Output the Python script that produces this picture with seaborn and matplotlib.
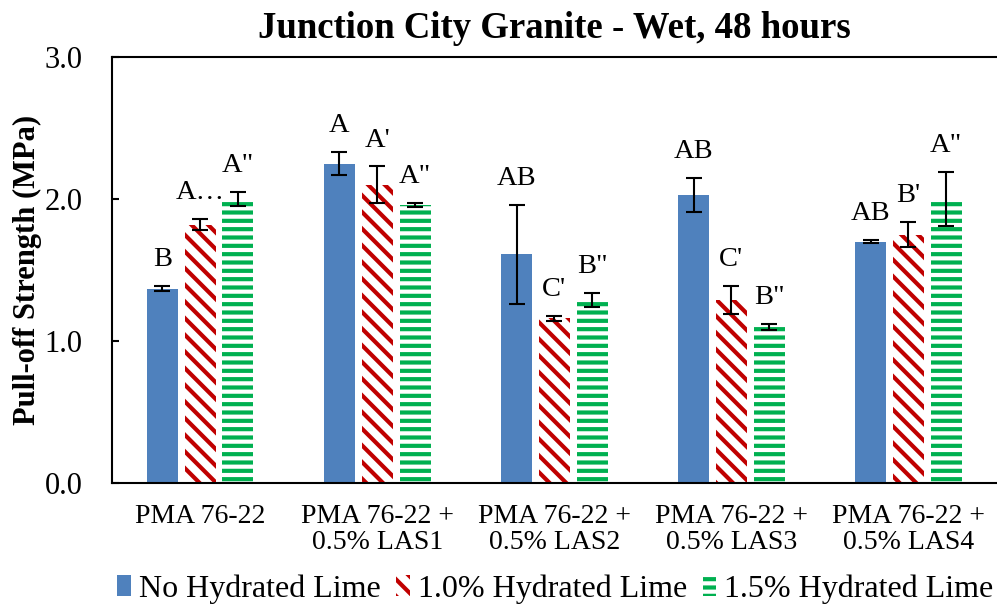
import matplotlib
matplotlib.use("Agg")
import matplotlib.pyplot as plt
import seaborn as sns
import pandas as pd
import numpy as np
from matplotlib.patches import Patch

categories = ["PMA 76-22", "PMA 76-22 +\n0.5% LAS1", "PMA 76-22 +\n0.5% LAS2",
              "PMA 76-22 +\n0.5% LAS3", "PMA 76-22 +\n0.5% LAS4"]
series = ["No Hydrated Lime", "1.0% Hydrated Lime", "1.5% Hydrated Lime"]
no_lime = [1.37, 2.25, 1.61, 2.03, 1.70]
lime_10 = [1.82, 2.10, 1.16, 1.29, 1.75]
lime_15 = [2.00, 1.96, 1.29, 1.10, 2.00]
err_no = [0.02, 0.08, 0.35, 0.12, 0.01]
err_10 = [0.04, 0.13, 0.02, 0.10, 0.09]
err_15 = [0.05, 0.015, 0.05, 0.02, 0.19]
labels_no = ["B", "A", "AB", "AB", "AB"]
labels_10 = ["A\u2026", "A'", "C'", "C'", "B'"]
labels_15 = ['A"', 'A"', 'B"', 'B"', 'A"']

sns.set_theme(style="white")
plt.rcParams["font.family"] = ["Liberation Serif", "DejaVu Serif"]
plt.rcParams["hatch.linewidth"] = 3.0
for k in ["text.color", "axes.labelcolor", "xtick.color", "ytick.color"]:
    plt.rcParams[k] = "black"

rows = []
for vals, errs, s in [(no_lime, err_no, series[0]), (lime_10, err_10, series[1]), (lime_15, err_15, series[2])]:
    for c, v, e in zip(categories, vals, errs):
        rows.append({"cat": c, "val": v, "err": e, "series": s})
df = pd.DataFrame(rows)

fig = plt.figure(figsize=(9.97, 6.07), dpi=100)
ax = fig.add_axes([0.112, 0.204, 0.888, 0.702])

sns.barplot(data=df, x="cat", y="val", hue="series", order=categories, hue_order=series,
            width=0.64, gap=0.18, errorbar=None, ax=ax, legend=False,
            palette=["#4F81BD", "#C00000", "#00B050"])

styles = [
    dict(facecolor="#4F81BD", edgecolor="#4F81BD", hatch=None),
    dict(facecolor="white", edgecolor="#C00000", hatch="\\\\"),
    dict(facecolor="white", edgecolor="#00B050", hatch="--"),
]
errs_all = [err_no, err_10, err_15]
labs_all = [labels_no, labels_10, labels_15]
n = len(categories)
bar_containers = list(ax.containers)[:3]
for si, cont in enumerate(bar_containers):
    st = styles[si]
    xs, ys = [], []
    for bar in cont:
        bar.set_facecolor(st["facecolor"])
        bar.set_edgecolor(st["edgecolor"])
        bar.set_linewidth(0)
        if st["hatch"]:
            bar.set_hatch(st["hatch"])
        xs.append(bar.get_x() + bar.get_width() / 2)
        ys.append(bar.get_height())
    ax.errorbar(xs, ys, yerr=errs_all[si], fmt="none", ecolor="black", elinewidth=1.5,
                capsize=6, capthick=1.5)
    for x, y, e, t in zip(xs, ys, errs_all[si], labs_all[si]):
        ax.annotate(t, (x, y + e), xytext=(0, 10), textcoords="offset points",
                    ha="center", va="bottom", fontsize=20.5, color="black")

ax.set_xlim(-0.5, 4.5)
ax.set_ylim(0, 3.0)
ax.set_yticks([0, 1, 2, 3])
ax.set_yticklabels(["0.0", "1.0", "2.0", "3.0"], fontsize=22)
ax.set_xticks(range(n))
ax.set_xticklabels(categories, fontsize=20, linespacing=1.05)
ax.tick_params(axis="y", direction="in", length=5, width=1.5, pad=21, left=True)
ax.tick_params(axis="x", length=0, pad=15)
ax.set_xlabel("")
ax.set_ylabel("Pull-off Strength (MPa)", fontsize=22, fontweight="bold", labelpad=2)
ax.set_title("Junction City Granite - Wet, 48 hours", fontsize=26.5, fontweight="bold", pad=14)
for side in ["left", "bottom", "top"]:
    ax.spines[side].set_color("black")
    ax.spines[side].set_linewidth(1.5)
ax.spines["right"].set_visible(False)

handles = [Patch(facecolor="#4F81BD", edgecolor="#4F81BD", linewidth=0),
           Patch(facecolor="white", edgecolor="#C00000", hatch="\\\\", linewidth=0),
           Patch(facecolor="white", edgecolor="#00B050", hatch="--", linewidth=0)]
fig.legend(handles, series, loc="lower center", bbox_to_anchor=(0.557, -0.042), ncol=3,
           frameon=False, fontsize=23, handlelength=0.42, handleheight=0.6,
           handletextpad=0.25, columnspacing=0.5)

fig.savefig("out.png", dpi=100)
